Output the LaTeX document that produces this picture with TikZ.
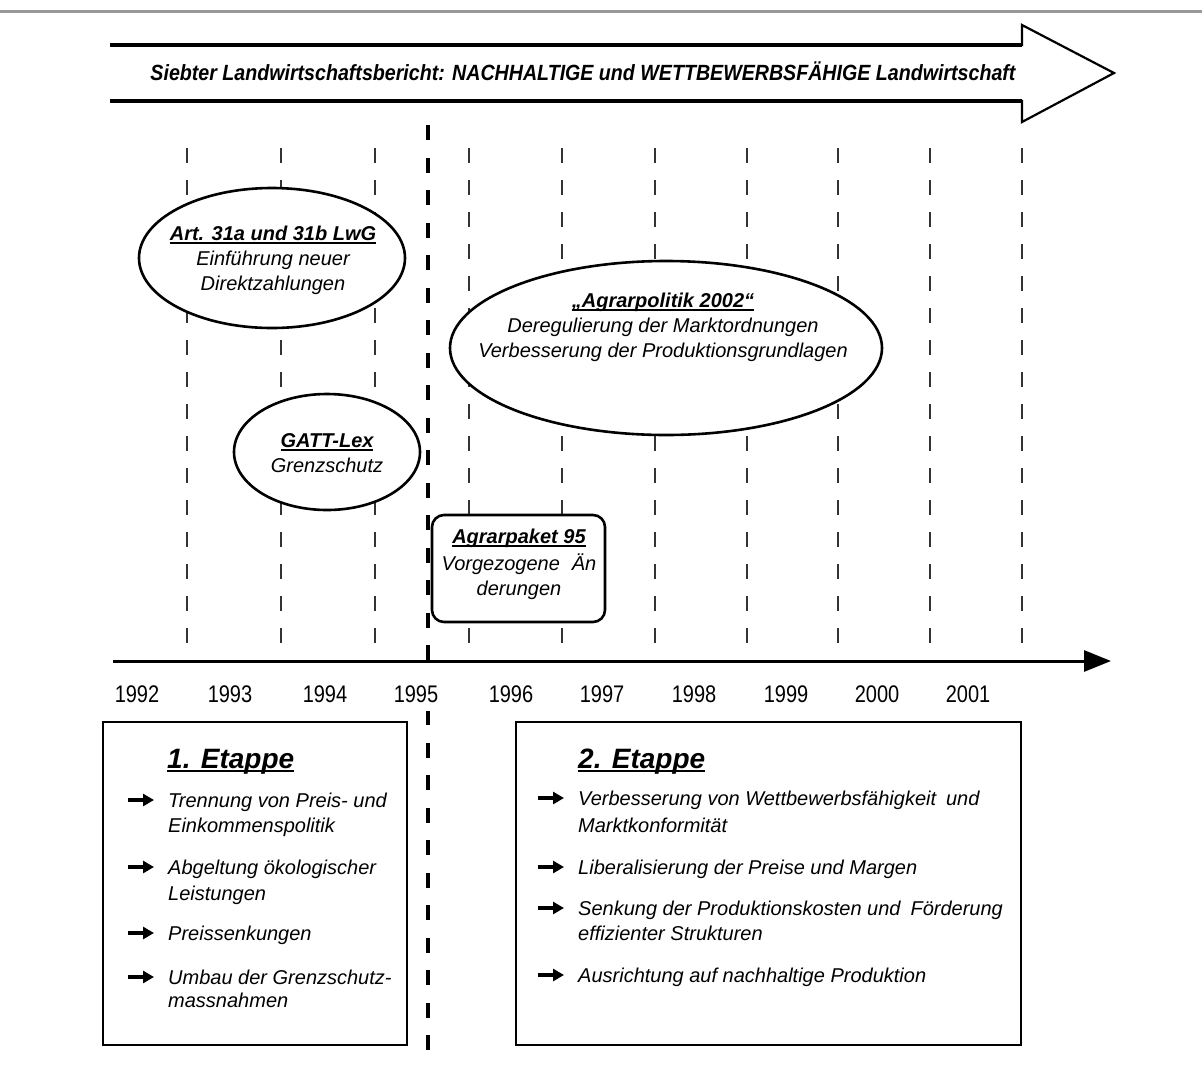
\documentclass[tikz,border=0pt]{standalone}
\usepackage{fontspec}
\usepackage{graphicx}
\setmainfont{Liberation Sans}
\usetikzlibrary{arrows.meta,shapes.geometric}
\newcommand\myul[1]{\setbox0\hbox{#1}\rlap{\copy0}\rule[-4pt]{\wd0}{1.7pt}}
\begin{document}
\begin{tikzpicture}[x=1pt,y=-1pt,
  txt/.style={font=\fontsize{20}{25}\selectfont\itshape, inner sep=0pt, anchor=base},
  ttl/.style={font=\fontsize{20}{25}\selectfont\bfseries\itshape, inner sep=0pt, anchor=base},
  big/.style={font=\fontsize{28}{32}\selectfont\bfseries\itshape, inner sep=0pt, anchor=base west},
  item/.style={font=\fontsize{20}{25}\selectfont\itshape, inner sep=0pt, anchor=base west},
  yr/.style={font=\fontsize{20}{24}\selectfont, inner xsep=2pt, inner ysep=9pt, anchor=base, fill=white},
  ell/.style={ellipse, draw, fill=white, line width=2.6pt, inner sep=0pt},
  frame/.style={draw, line width=2.6pt, inner sep=0pt},
  thin/.style={black!80, line width=1.1pt, dash pattern=on 15pt off 17pt},
  thick/.style={black, line width=3.6pt, dash pattern=on 15pt off 17.5pt},
  bul/.style={line width=3.2pt, -{Triangle[length=11pt,width=12pt]}}]
\useasboundingbox (0,0) rectangle (1202,1066);
\fill[white] (0,0) rectangle (1202,1066);
% top rule
\coordinate (r0) at (0,11); \coordinate (r1) at (1202,11);
\draw[black!40, line width=3pt] (r0) -- (r1);
% big arrow
\coordinate (a1) at (110,45); \coordinate (a2) at (1022,45);
\coordinate (a3) at (1022,25); \coordinate (a4) at (1114,73);
\coordinate (a5) at (1022,122); \coordinate (a6) at (1022,101);
\coordinate (a7) at (110,101);
\draw[line width=2.2pt, line join=miter] (a1) -- (a2) -- (a3) -- (a4) -- (a5) -- (a6) -- (a7);
\draw[line width=3.6pt] (a1) -- (a2) (a7) -- (a6);
\node[inner sep=0pt, anchor=base] (arrtxt) at (583,80) {\resizebox{865pt}{\height}{\fontsize{22}{26}\selectfont\bfseries\itshape Siebter Landwirtschaftsbericht: NACHHALTIGE und WETTBEWERBSFÄHIGE Landwirtschaft}};
% thin dashed year lines
\foreach \x [count=\i] in {187,281,375,469,562,655,747,838,930,1022}{
  \coordinate (vt\i) at (\x,148);
  \coordinate (vb\i) at (\x,653);
  \draw[thin] (vt\i) -- (vb\i);
}
% thick dashed 1995 line
\coordinate (dtop) at (428,125); \coordinate (dbot) at (428,1055);
\draw[thick] (dtop) -- (dbot);
% axis
\coordinate (ax0) at (113,661); \coordinate (ax1) at (1111,661);
\draw[line width=3pt, -{Triangle[length=27pt,width=21pt]}] (ax0) -- (ax1);
% years
\foreach \x/\y in {137/1992,230/1993,325/1994,416/1995,511/1996,602/1997,694/1998,786/1999,877/2000,968/2001}{
  \node[yr] (y\y) at (\x,702) {\scalebox{1}[1.2]{\y}};
}
% ellipses
\node[ell, minimum width=266pt, minimum height=140pt] (e1) at (272,258) {};
\node[ttl] (e1a) at (273,240) {\myul{Art. 31a und 31b LwG}};
\node[txt] (e1b) at (273,265) {Einführung neuer};
\node[txt] (e1c) at (273,290) {Direktzahlungen};
\node[ell, minimum width=186pt, minimum height=116pt] (e2) at (327,452) {};
\node[ttl] (e2a) at (327,447) {\myul{GATT-Lex}};
\node[txt] (e2b) at (327,472) {Grenzschutz};
\node[ell, minimum width=432pt, minimum height=174pt] (e3) at (666,348) {};
\node[ttl] (e3a) at (663,307) {\myul{„Agrarpolitik 2002“}};
\node[txt] (e3b) at (663,332) {Deregulierung der Marktordnungen};
\node[txt] (e3c) at (663,357) {Verbesserung der Produktionsgrundlagen};
% Agrarpaket box
\node[frame, fill=white, rounded corners=12pt, minimum width=173pt, minimum height=107pt] (b3) at (518.5,568.5) {};
\node[ttl] (b3a) at (519,543) {\myul{Agrarpaket 95}};
\node[txt] (b3b) at (519,570) {Vorgezogene\hspace{12pt}Än};
\node[txt] (b3c) at (519,595) {derungen};
% Etappe boxes
\node[frame, minimum width=304pt, minimum height=323pt] (s1) at (255,883.5) {};
\node[frame, minimum width=505pt, minimum height=323pt] (s2) at (768.5,883.5) {};
\node[big] (s1t) at (167,768) {\myul{1. Etappe}};
\node[big] (s2t) at (578,768) {\myul{2. Etappe}};
% items stage 1
\node[item] (p1a) at (168,807) {Trennung von Preis- und};
\node[item] (p1b) at (168,832) {Einkommenspolitik};
\node[item] (p2a) at (168,874) {Abgeltung ökologischer};
\node[item] (p2b) at (168,900) {Leistungen};
\node[item] (p3a) at (168,940) {Preissenkungen};
\node[item] (p4a) at (168,984) {Umbau der Grenzschutz-};
\node[item] (p4b) at (168,1007) {massnahmen};
% items stage 2
\node[item] (q1a) at (578,805) {Verbesserung von Wettbewerbsfähigkeit\hspace{10pt}und};
\node[item] (q1b) at (578,832) {Marktkonformität};
\node[item] (q2a) at (578,874) {Liberalisierung der Preise und Margen};
\node[item] (q3a) at (578,915) {Senkung der Produktionskosten und\hspace{10pt}Förderung};
\node[item] (q3b) at (578,940) {effizienter Strukturen};
\node[item] (q4a) at (578,982) {Ausrichtung auf nachhaltige Produktion};
% bullets
\foreach \n in {p1a,p2a,p3a,p4a,q1a,q2a,q3a,q4a}{
  \draw[bul] ([xshift=-40pt,yshift=7pt]\n.base west) -- ([xshift=-14pt,yshift=7pt]\n.base west);
}
\end{tikzpicture}
\end{document}
